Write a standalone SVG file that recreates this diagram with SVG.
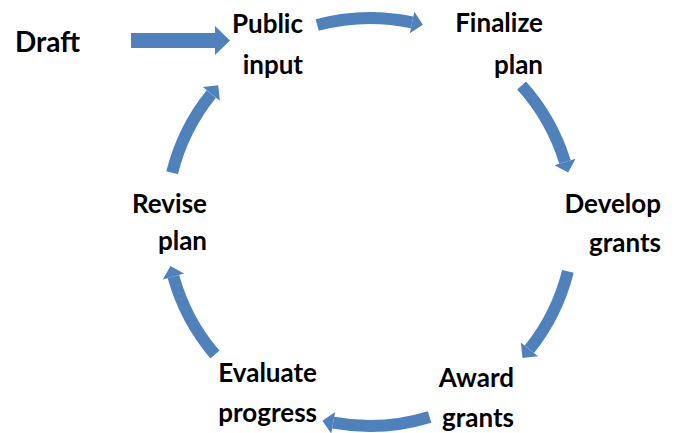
<svg xmlns="http://www.w3.org/2000/svg" width="676" height="433" viewBox="0 0 676 433">
<style>
text{font-family:Lato,"Liberation Sans",sans-serif;font-weight:bold;font-size:26px;fill:#000;text-anchor:end}
.draft{font-size:28px;text-anchor:start}
.arc{fill:none;stroke:#4F81BD;stroke-width:12;stroke-linecap:butt;marker-end:url(#head)}
</style>
<defs>
<marker id="head" markerUnits="userSpaceOnUse" markerWidth="12" markerHeight="22" refX="0" refY="11" orient="auto" overflow="visible">
<path d="M0,0 L11,11 L0,22 Z" fill="#4F81BD"/>
</marker>
</defs>
<rect width="676" height="433" fill="#fff"/>
<g id="draft"><text class="draft" x="15" y="52">Draft</text></g>
<g id="public-input"><text x="303" y="33">Public</text><text x="303" y="74">input</text></g>
<g id="finalize-plan"><text x="543" y="32">Finalize</text><text x="543" y="74">plan</text></g>
<g id="develop-grants"><text x="661" y="213">Develop</text><text x="661" y="252">grants</text></g>
<g id="award-grants"><text x="514" y="387">Award</text><text x="514" y="427">grants</text></g>
<g id="evaluate-progress"><text x="317" y="382">Evaluate</text><text x="317" y="422">progress</text></g>
<g id="revise-plan"><text x="207" y="213">Revise</text><text x="207" y="250">plan</text></g>
<g id="connectors">
<path d="M131,33 H215 V26 L230,40.5 L215,55 V48 H131 Z" fill="#4F81BD"/>
<path class="arc" d="M317.2,25 A204,204 0 0 1 412.1,22.4"/>
<path class="arc" d="M521.6,85.5 A204,204 0 0 1 565,162"/>
<path class="arc" d="M567.9,271.4 A204,204 0 0 1 529.4,349.3"/>
<path class="arc" d="M429.6,417.1 A204,204 0 0 1 333.2,422.7"/>
<path class="arc" d="M214.9,354.5 A204,204 0 0 1 173.4,276.5"/>
<path class="arc" d="M172.1,172.7 A204,204 0 0 1 211.3,93.9"/>
</g>
</svg>
